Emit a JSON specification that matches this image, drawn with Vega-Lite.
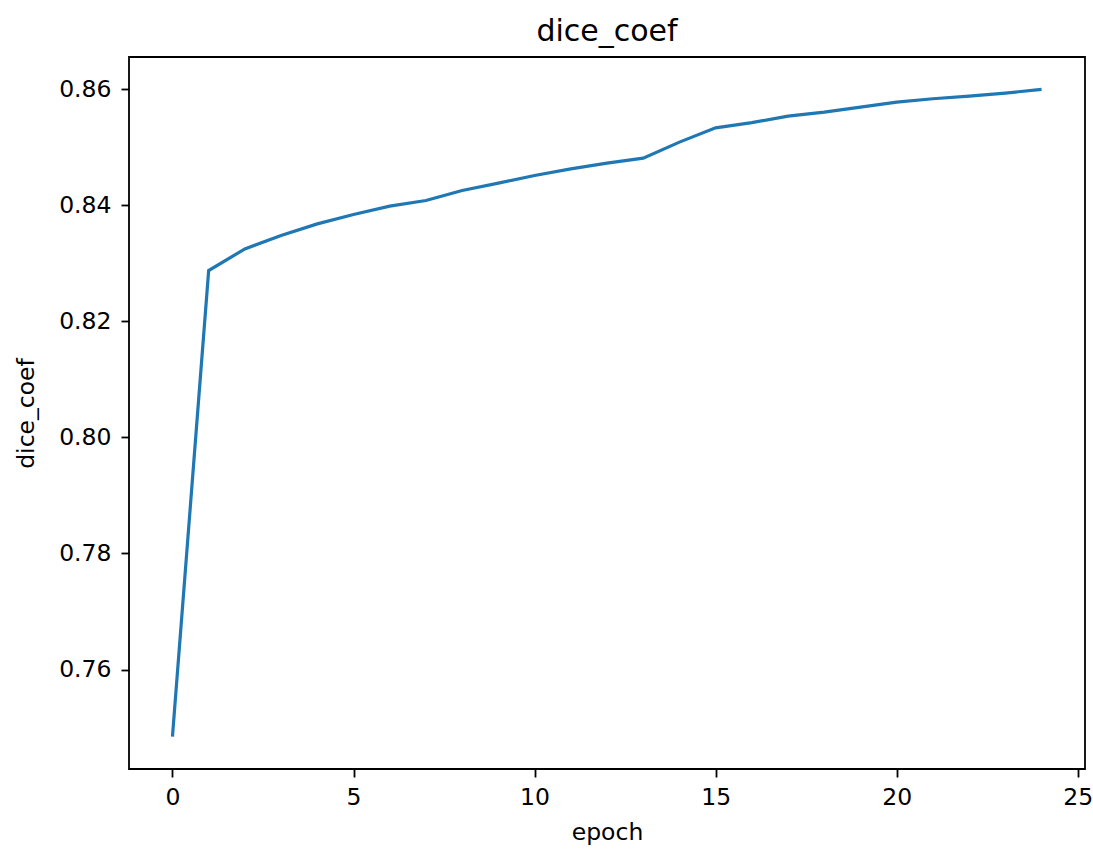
{
  "$schema": "https://vega.github.io/schema/vega-lite/v6.json",
  "width": 956,
  "height": 712,
  "autosize": {"type": "none"},
  "padding": {"left": 129, "top": 57, "right": 8, "bottom": 80},
  "background": "white",
  "title": {"text": "dice_coef", "fontSize": 30, "font": "DejaVu Sans", "fontWeight": "normal", "color": "black", "offset": 10, "anchor": "middle"},
  "config": {
    "view": {"stroke": "black", "strokeWidth": 1.8},
    "axis": {
      "grid": false, "domain": false,
      "tickColor": "black", "tickSize": 8, "tickWidth": 1.8,
      "labelFont": "DejaVu Sans", "labelFontSize": 23.5, "labelColor": "black",
      "titleFont": "DejaVu Sans", "titleFontSize": 23.5, "titleFontWeight": "normal", "titleColor": "black"
    }
  },
  "data": {"values": [
    {"epoch": 0, "dice_coef": 0.74845},
    {"epoch": 1, "dice_coef": 0.82874},
    {"epoch": 2, "dice_coef": 0.83247},
    {"epoch": 3, "dice_coef": 0.83478},
    {"epoch": 4, "dice_coef": 0.83678},
    {"epoch": 5, "dice_coef": 0.83840},
    {"epoch": 6, "dice_coef": 0.83983},
    {"epoch": 7, "dice_coef": 0.84081},
    {"epoch": 8, "dice_coef": 0.84253},
    {"epoch": 9, "dice_coef": 0.84379},
    {"epoch": 10, "dice_coef": 0.84512},
    {"epoch": 11, "dice_coef": 0.84626},
    {"epoch": 12, "dice_coef": 0.84724},
    {"epoch": 13, "dice_coef": 0.84810},
    {"epoch": 14, "dice_coef": 0.85086},
    {"epoch": 15, "dice_coef": 0.85333},
    {"epoch": 16, "dice_coef": 0.85422},
    {"epoch": 17, "dice_coef": 0.85534},
    {"epoch": 18, "dice_coef": 0.85603},
    {"epoch": 19, "dice_coef": 0.85690},
    {"epoch": 20, "dice_coef": 0.85776},
    {"epoch": 21, "dice_coef": 0.85833},
    {"epoch": 22, "dice_coef": 0.85879},
    {"epoch": 23, "dice_coef": 0.85931},
    {"epoch": 24, "dice_coef": 0.85995}
  ]},
  "mark": {"type": "line", "color": "#1f77b4", "strokeWidth": 3.2},
  "encoding": {
    "x": {
      "field": "epoch", "type": "quantitative",
      "scale": {"domain": [-1.2, 25.2], "nice": false, "zero": false},
      "axis": {"values": [0, 5, 10, 15, 20, 25], "format": "d", "title": "epoch", "labelPadding": 8, "titlePadding": 12}
    },
    "y": {
      "field": "dice_coef", "type": "quantitative",
      "scale": {"domain": [0.742875, 0.865525], "nice": false, "zero": false},
      "axis": {"values": [0.76, 0.78, 0.80, 0.82, 0.84, 0.86], "format": ".2f", "title": "dice_coef", "labelPadding": 10, "titlePadding": 20}
    }
  }
}
